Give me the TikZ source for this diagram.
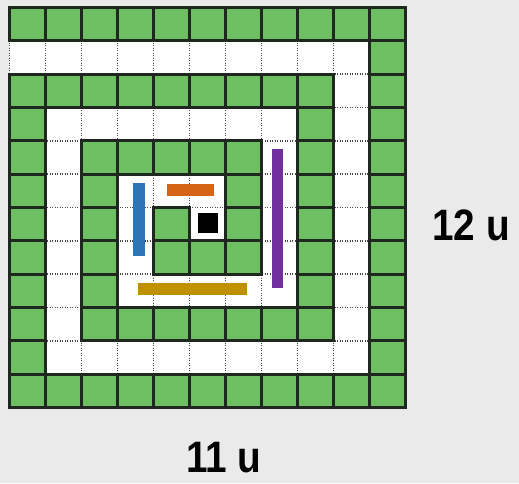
\documentclass[tikz,border=0pt]{standalone}
\usepackage{fontspec}
\setmainfont{Liberation Sans}
\usepackage{graphicx}
\usetikzlibrary{positioning}
\definecolor{cellgreen}{RGB}{110,190,98}
\definecolor{cellline}{RGB}{30,40,30}
\definecolor{wallgray}{RGB}{70,70,70}
\definecolor{bggray}{RGB}{234,234,234}
\definecolor{barblue}{RGB}{46,117,182}
\definecolor{barorange}{RGB}{214,100,22}
\definecolor{barpurple}{RGB}{112,48,160}
\definecolor{bargold}{RGB}{191,144,0}

\begin{document}
\begin{tikzpicture}[x=1pt,y=-1pt,
  cell/.style = {fill=cellgreen, draw=cellline, line width=3pt},
  wall/.style = {draw=wallgray, line width=1.6pt, dash pattern=on 1.3pt off 1.2pt},
  dimlabel/.style = {font=\fontsize{44}{44}\selectfont\bfseries, inner sep=0pt}]
\fill[bggray] (0,0) rectangle (519,483);
\useasboundingbox (0,0) rectangle (519,483);
\fill[white] (9.5,7.5) rectangle (405.5,407.5);

\begin{scope}[shift={(9.5,7.5)}, x=36pt, y=-33.333pt]
\foreach \c in {0,...,11} \draw[wall] (\c,0) -- (\c,12);
\foreach \r in {0,...,12} \draw[wall] (0,\r) -- (11,\r);
\foreach \r/\cs in {0/{0,1,2,3,4,5,6,7,8,9,10}, 1/{10}, 2/{0,1,2,3,4,5,6,7,8,10},
    3/{0,8,10}, 4/{0,2,3,4,5,6,8,10}, 5/{0,2,6,8,10}, 6/{0,2,4,6,8,10},
    7/{0,2,4,5,6,8,10}, 8/{0,2,8,10}, 9/{0,2,3,4,5,6,7,8,10}, 10/{0,10},
    11/{0,1,2,3,4,5,6,7,8,9,10}}
  \foreach \c in \cs \draw[cell] (\c,\r) rectangle ++(1,1);
\end{scope}

\fill[barblue] (133,183) rectangle (145,256);
\fill[barorange] (167,184) rectangle (214,196);
\fill[barpurple] (272,149) rectangle (283,288);
\fill[bargold] (138,283) rectangle (247,295);
\fill[black] (198,213) rectangle (218,233);

\node[dimlabel] (height) at (471,225) {\scalebox{0.88}[1]{12 u}};
\node[dimlabel] (width) at (224,458) {\scalebox{0.88}[1]{11 u}};
\end{tikzpicture}
\end{document}
